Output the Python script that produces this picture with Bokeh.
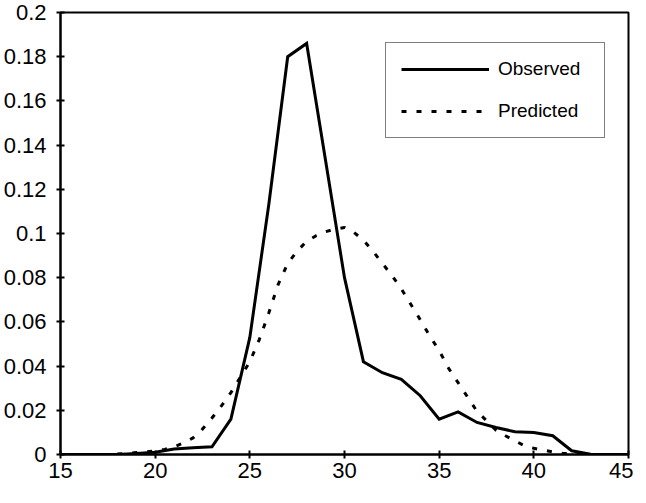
from bokeh.plotting import figure
from bokeh.models import Legend, LegendItem, FixedTicker, Range1d
from bokeh.embed import file_html
from bokeh.resources import INLINE

# Observed distribution (integer steps)
obs_x = [15, 16, 17, 18, 19, 20, 21, 22, 23, 24, 25, 26, 27, 28, 29, 30,
         31, 32, 33, 34, 35, 36, 37, 38, 39, 40, 41, 42, 43, 44, 45]
obs_y = [0, 0, 0, 0, 0.0005, 0.001, 0.0025, 0.003, 0.0035, 0.016, 0.053, 0.113,
         0.180, 0.186, 0.133, 0.080, 0.042, 0.037, 0.034, 0.0266, 0.016, 0.0193,
         0.0145, 0.0122, 0.0103, 0.010, 0.0085, 0.0017, 0.0001, 0, 0]

# Predicted distribution (half steps)
pred_x = [18, 18.5, 19, 19.5, 20, 20.5, 21, 21.5, 22, 22.5, 23, 23.5, 24, 24.5,
          25, 25.5, 26, 26.5, 27, 27.5, 28, 28.5, 29, 29.5, 30, 30.5, 31, 31.5,
          32, 32.5, 33, 33.5, 34, 34.5, 35, 35.5, 36, 36.5, 37, 37.5, 38, 38.5,
          39, 39.5, 40, 40.5, 41, 41.5, 42, 43]
pred_y = [0.0002, 0.0005, 0.0009, 0.0012, 0.0016, 0.0023, 0.0035, 0.0052, 0.0075,
          0.0115, 0.0165, 0.022, 0.028, 0.035, 0.042, 0.052, 0.064, 0.077, 0.0865,
          0.092, 0.0965, 0.099, 0.1008, 0.102, 0.1027, 0.1005, 0.097, 0.092, 0.0865,
          0.081, 0.075, 0.068, 0.061, 0.0537, 0.047, 0.039, 0.0325, 0.026, 0.0195,
          0.0153, 0.011, 0.0085, 0.0062, 0.004, 0.0028, 0.002, 0.0012, 0.0006,
          0.0002, 0]

x_ticks = [15, 20, 25, 30, 35, 40, 45]
y_ticks = [0, 0.02, 0.04, 0.06, 0.08, 0.1, 0.12, 0.14, 0.16, 0.18, 0.2]
y_tick_labels = ["0", "0.02", "0.04", "0.06", "0.08", "0.1", "0.12", "0.14",
                 "0.16", "0.18", "0.2"]

FONT = "Liberation Sans"

p = figure(frame_width=568, frame_height=442, output_backend="svg",
           toolbar_location=None,
           x_range=Range1d(15, 45), y_range=Range1d(0, 0.2),
           min_border_left=57, min_border_right=5, min_border_top=12,
           min_border_bottom=33)
p.background_fill_color = "white"
p.border_fill_color = "white"
p.outline_line_color = "black"
p.outline_line_width = 2
p.xgrid.visible = False
p.ygrid.visible = False

for ax in (p.xaxis[0], p.yaxis[0]):
    ax.axis_line_color = "black"
    ax.axis_line_width = 2
    ax.major_tick_line_color = "black"
    ax.major_tick_line_width = 2
    ax.major_tick_in = 4
    ax.major_tick_out = 4
    ax.minor_tick_line_color = None
    ax.major_label_text_font = FONT
    ax.major_label_text_font_size = "22px"
    ax.major_label_text_color = "black"

p.xaxis[0].ticker = FixedTicker(ticks=x_ticks)
p.yaxis[0].ticker = FixedTicker(ticks=y_ticks)
p.yaxis[0].major_label_overrides = {t: l for t, l in zip(y_ticks, y_tick_labels)}
p.xaxis[0].major_label_standoff = 4
p.yaxis[0].major_label_standoff = 10

r_obs = p.line(obs_x, obs_y, line_color="black", line_width=3, line_join="miter")
r_pred = p.line(pred_x, pred_y, line_color="black", line_width=3,
                line_dash="5 10")

legend = Legend(items=[LegendItem(label="Observed", renderers=[r_obs]),
                       LegendItem(label="Predicted", renderers=[r_pred])],
                location=(325, 316))
legend.label_text_font = FONT
legend.label_text_font_size = "19px"
legend.label_text_color = "black"
legend.padding = 15
legend.margin = 0
legend.spacing = 20
legend.glyph_width = 88
legend.glyph_height = 18
legend.label_height = 18
legend.label_width = 91
legend.label_standoff = 9
legend.border_line_color = "black"
legend.border_line_width = 1.5
legend.background_fill_color = "white"
legend.background_fill_alpha = 1
p.add_layout(legend, "center")

open("out.html", "w").write(file_html(p, INLINE))
